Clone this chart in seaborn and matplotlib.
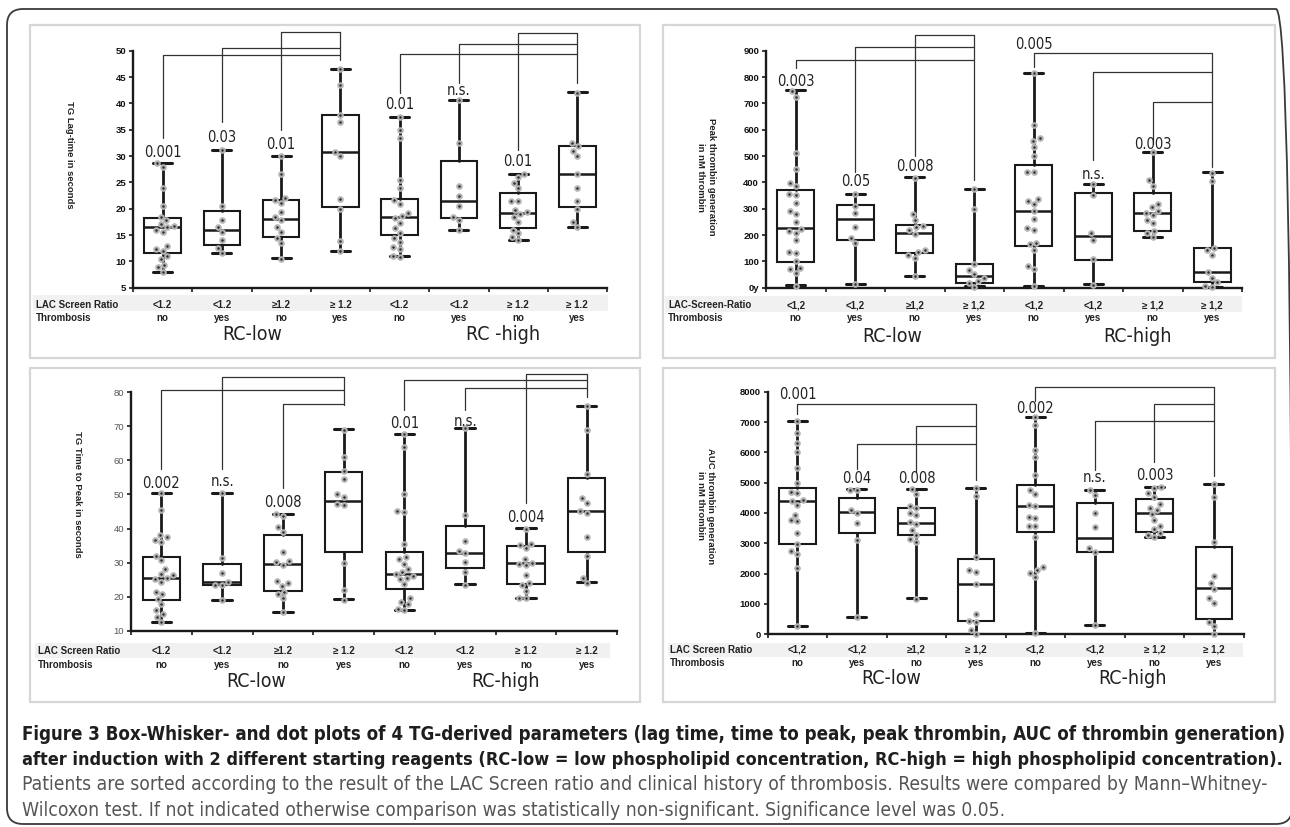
import os
import numpy as np
import pandas as pd
import matplotlib
matplotlib.use("Agg")
import matplotlib.pyplot as plt
import seaborn as sns
from matplotlib import font_manager as fm
from matplotlib.patches import FancyBboxPatch, Rectangle
from matplotlib.transforms import blended_transform_factory

# ---------------- data ----------------
groups = ["g1", "g2", "g3", "g4", "g5", "g6", "g7", "g8"]
thrombosis = ["no", "yes", "no", "yes", "no", "yes", "no", "yes"]
lac_dot = ["<1.2", "<1.2", "\u22651.2", "\u2265 1.2", "<1.2", "<1.2", "\u2265 1.2", "\u2265 1.2"]
lac_comma = ["<1,2", "<1,2", "\u22651,2", "\u2265 1,2", "<1,2", "<1,2", "\u2265 1,2", "\u2265 1,2"]

lag_pts = [
    [28.6, 28.0, 23.9, 20.5, 18.5, 17.8, 17.1, 16.8, 16.5, 16.0, 15.5, 13.0, 12.4, 12.0, 11.0, 10.5, 9.4, 8.9, 8.0],
    [31.1, 20.5, 17.9, 16.5, 15.5, 14.0, 12.5, 11.5],
    [30.0, 26.5, 22.0, 21.6, 21.0, 19.4, 18.5, 17.9, 16.5, 15.5, 14.4, 13.4, 10.4],
    [46.5, 43.4, 37.8, 36.4, 30.8, 30.1, 21.9, 19.9, 13.8, 11.9],
    [37.4, 35.0, 33.4, 25.4, 23.9, 21.6, 20.9, 19.2, 18.7, 18.3, 17.3, 16.3, 15.4, 14.4, 13.7, 12.8, 12.4, 11.0, 10.9],
    [40.6, 32.4, 24.4, 22.4, 20.5, 18.5, 17.8, 16.0],
    [26.6, 26.1, 24.9, 23.9, 21.4, 21.4, 19.8, 19.3, 18.9, 18.4, 17.4, 16.0, 15.3, 14.7, 14.0],
    [42.0, 32.4, 31.9, 31.0, 30.0, 26.5, 24.0, 21.5, 19.9, 17.5, 16.6],
]
lag_lo = [8.0, 11.6, 10.6, 12.0, 11.0, 16.0, 14.1, 16.6]
lag_q1 = [11.65, 13.1, 14.6, 20.3, 15.1, 18.2, 16.3, 20.3]
lag_med = [16.6, 16.0, 18.0, 30.7, 18.5, 21.5, 19.1, 26.6]
lag_q3 = [18.3, 19.6, 21.6, 37.7, 21.8, 29.1, 23.0, 32.0]
lag_hi = [28.6, 31.1, 30.1, 46.5, 37.5, 40.6, 26.6, 42.2]

peak_pts = [
    [748, 726, 513, 452, 397, 386, 357, 353, 323, 292, 278, 248, 224, 215, 209, 180, 136, 133, 101, 76, 72, 56, 6],
    [356, 310, 285, 231, 190, 171, 13],
    [418, 280, 256, 236, 229, 220, 204, 144, 135, 123, 113, 44],
    [375, 300, 91, 68, 53, 38, 24, 18, 3],
    [815, 617, 567, 558, 533, 502, 440, 438, 337, 330, 318, 290, 262, 226, 220, 168, 165, 145, 82, 70, 5],
    [392, 351, 206, 182, 110, 10],
    [514, 408, 386, 318, 305, 292, 285, 276, 258, 245, 217, 207, 191],
    [437, 404, 150, 142, 125, 58, 38, 20, 7, 2],
]
peak_lo = [10, 14, 44, 5, 7, 13, 191, 4]
peak_q1 = [99, 183, 130, 19, 159, 107, 216, 20]
peak_med = [225, 261, 206, 45, 291, 196, 285, 61]
peak_q3 = [371, 314, 239, 91, 466, 358, 358, 149]
peak_hi = [750, 357, 420, 375, 816, 394, 516, 439]

ttp_pts = [
    [50.5, 45.5, 38.1, 37.4, 36.6, 36.1, 32.0, 30.7, 28.1, 26.6, 26.3, 25.6, 25.3, 24.4, 21.4, 20.9, 19.4, 17.7, 16.0, 15.0, 14.1, 12.6],
    [50.3, 31.4, 27.0, 24.4, 23.5, 23.3, 19.0],
    [44.2, 43.6, 40.4, 39.0, 33.0, 30.5, 30.1, 29.4, 24.5, 24.0, 23.2, 21.4, 20.8, 19.5, 15.6],
    [69.0, 61.0, 56.9, 54.5, 50.1, 49.4, 47.2, 46.8, 30.0, 22.0, 19.0],
    [67.7, 64.0, 50.1, 45.1, 44.9, 35.6, 31.7, 31.0, 29.7, 28.1, 27.1, 26.6, 26.1, 25.6, 25.1, 23.6, 19.5, 18.3, 17.7, 16.5, 16.0],
    [69.6, 44.0, 36.3, 33.4, 32.7, 30.1, 27.1, 23.5],
    [40.0, 35.5, 35.1, 34.3, 31.1, 30.0, 29.6, 29.2, 26.5, 23.9, 23.3, 21.7, 19.7, 19.5],
    [76.0, 69.0, 56.0, 49.0, 47.5, 45.1, 44.7, 37.6, 32.0, 25.6, 24.0],
]
ttp_lo = [12.6, 19.0, 15.6, 19.2, 16.0, 23.6, 19.7, 24.2]
ttp_q1 = [18.9, 23.4, 21.7, 33.2, 22.2, 28.5, 23.7, 33.2]
ttp_med = [25.5, 24.2, 29.6, 48.1, 26.7, 32.9, 30.0, 45.2]
ttp_q3 = [31.5, 29.6, 38.1, 56.7, 33.0, 40.7, 34.9, 54.9]
ttp_hi = [50.5, 50.5, 44.3, 69.2, 67.7, 69.6, 40.2, 76.1]

auc_pts = [
    [7020, 6650, 6300, 6000, 5480, 5000, 4700, 4650, 4420, 4400, 4280, 3950, 3780, 3750, 3340, 2980, 2760, 2660, 2200, 280],
    [4750, 4750, 4100, 3990, 3660, 3110, 580],
    [4780, 4620, 4220, 4150, 4000, 3930, 3710, 3640, 3440, 3280, 3150, 3060, 1180],
    [4820, 4570, 2540, 2110, 2060, 1660, 660, 440, 420, 150, 10],
    [7150, 6900, 6080, 5850, 5250, 4750, 4620, 4260, 4220, 3880, 3850, 3580, 3560, 3200, 2230, 2120, 2030, 1880, 30],
    [4750, 4600, 3990, 3550, 2840, 2720, 300],
    [4850, 4810, 4650, 4540, 4300, 4180, 4100, 3970, 3770, 3580, 3460, 3350, 3280, 3220],
    [4950, 4520, 3030, 1920, 1700, 1500, 1190, 1030, 420, 280, 0],
]
auc_lo = [285, 582, 1186, 10, 30, 307, 3198, 0]
auc_q1 = [2967, 3351, 3274, 428, 3384, 2703, 3384, 505]
auc_med = [4406, 4044, 3659, 1659, 4230, 3187, 3989, 1516]
auc_q3 = [4835, 4483, 4153, 2483, 4923, 4340, 4450, 2890]
auc_hi = [7044, 4780, 4780, 4824, 7176, 4758, 4868, 4956]

# brackets: (group, y_start, y_line); reference group and its lower end
lag_br = [(0, 33.4, 49.2), (1, 36.5, 50.5), (2, 35.0, 53.6), (4, 41.9, 49.3), (5, 43.8, 51.3), (6, 31.2, 53.3)]
lag_ref = [(3, 48.2), (7, 43.8)]
lag_p = [(0, 30.6, "0.001"), (1, 33.6, "0.03"), (2, 32.1, "0.01"), (4, 39.7, "0.01"), (5, 42.5, "n.s."), (6, 28.9, "0.01")]

peak_br = [(0, 833, 865), (1, 441, 915), (2, 500, 960), (4, 839, 890), (5, 485, 818), (6, 546, 706)]
peak_ref = [(3, 409), (7, 460)]
peak_p = [(0, 782, "0.003"), (1, 403, "0.05"), (2, 460, "0.008"), (4, 925, "0.005"), (5, 431, "n.s."), (6, 542, "0.003")]

ttp_br = [(0, 57.5, 80.8), (1, 57.5, 84.4), (2, 51.8, 76.6), (4, 74.8, 83.6), (5, 74.8, 81.4), (6, 47.4, 85.3)]
ttp_ref = [(3, 76.3), (7, 78.5)]
ttp_p = [(0, 53.3, "0.002"), (1, 53.7, "n.s."), (2, 47.7, "0.008"), (4, 70.7, "0.01"), (5, 71.4, "n.s."), (6, 43.2, "0.004")]

auc_br = [(0, 7265, 7585), (1, 5452, 6267), (2, 5343, 6879), (4, 7703, 8145), (5, 5420, 7044), (6, 5673, 7585)]
auc_ref = [(3, 5090), (7, 5222)]
auc_p = [(0, 7914, "0.001"), (1, 5122, "0.04"), (2, 5122, "0.008"), (4, 7453, "0.002"), (5, 5166, "n.s."), (6, 5232, "0.003")]

lag_ticks = [5, 10, 15, 20, 25, 30, 35, 40, 45, 50]
peak_ticks = [0, 100, 200, 300, 400, 500, 600, 700, 800, 900]
peak_ticklabels = ["0y", "100", "200", "300", "400", "500", "600", "700", "800", "900"]
ttp_ticks = [10, 20, 30, 40, 50, 60, 70, 80]
auc_ticks = [0, 1000, 2000, 3000, 4000, 5000, 6000, 7000, 8000]

caption = [
    "Figure 3 Box-Whisker- and dot plots of 4 TG-derived parameters (lag time, time to peak, peak thrombin, AUC of thrombin generation)",
    "after induction with 2 different starting reagents (RC-low = low phospholipid concentration, RC-high = high phospholipid concentration).",
    "Patients are sorted according to the result of the LAC Screen ratio and clinical history of thrombosis. Results were compared by Mann\u2013Whitney-",
    "Wilcoxon test. If not indicated otherwise comparison was statistically non-significant. Significance level was 0.05.",
]

# ---------------- style ----------------
sns.set_theme(style="ticks")
plt.rcParams["font.family"] = ["Liberation Sans", "DejaVu Sans"]


def find_narrow(bold):
    best = None
    for f in fm.fontManager.ttflist:
        base = os.path.basename(f.fname).lower()
        if not base.endswith((".ttf", ".otf")):
            continue
        if "italic" in base or "oblique" in base:
            continue
        if not ("narrow" in base or "condensed" in base):
            continue
        if ("bold" in base) != bold:
            continue
        score = 0 if "liberation" in base else (1 if "dejavusans" in base and "mono" not in base else 2)
        if best is None or score < best[0]:
            best = (score, f.fname)
    return best[1] if best else None


NARROW_REG = find_narrow(False)
NARROW_BOLD = find_narrow(True)


def nprop(size, bold=False):
    path = NARROW_BOLD if bold else NARROW_REG
    if path:
        return fm.FontProperties(fname=path, size=size)
    return fm.FontProperties(family="Liberation Sans", weight="bold" if bold else "normal",
                             size=size * 0.88)


W, H = 1290, 827
fig = plt.figure(figsize=(W / 100, H / 100), dpi=100)
fig.patch.set_facecolor("white")
DARK = "#1a1a1a"


def fx(px):
    return px / W


def fy(py):
    return 1 - py / H


# outer rounded frame (in inches)
frame = FancyBboxPatch((7 / 100, (H - 824) / 100), (1292 - 7) / 100, (824 - 9) / 100,
                       boxstyle="round,pad=0,rounding_size=0.16", transform=fig.dpi_scale_trans,
                       fill=False, edgecolor="#3a3a3a", linewidth=1.3, zorder=0)
fig.add_artist(frame)

panels = [
    dict(pts=lag_pts, lo=lag_lo, q1=lag_q1, med=lag_med, q3=lag_q3, hi=lag_hi, br=lag_br, ref=lag_ref, p=lag_p,
         ticks=lag_ticks, labels=[str(t) for t in lag_ticks], ylim=(5, 50),
         ax_px=(133, 607, 50.7, 287.7), border=(30, 25, 640, 358), band=(33, 608, 295, 311),
         rows=(305, 318.5, 335), head_x=36, lac_title="LAC Screen Ratio", lac=lac_dot,
         rc=((1.51, "RC-low"), (5.75, "RC -high")),
         ylabel="TG Lag-time in seconds", ylab_pos=(-0.133, 0.56), tick_color="#111111", tick_weight="bold"),
    dict(pts=peak_pts, lo=peak_lo, q1=peak_q1, med=peak_med, q3=peak_q3, hi=peak_hi, br=peak_br, ref=peak_ref,
         p=peak_p, ticks=peak_ticks, labels=peak_ticklabels, ylim=(0, 900),
         ax_px=(766, 1242, 50.7, 287.7), border=(663, 25, 1275, 358), band=(665, 1242, 296, 312),
         rows=(305, 318, 337), head_x=668, lac_title="LAC-Screen-Ratio", lac=lac_comma,
         rc=((1.62, "RC-low"), (5.75, "RC-high")),
         ylabel="Peak thrombin generation\nin nM thrombin", ylab_pos=(-0.126, 0.467), tick_color="#111111",
         tick_weight="bold"),
    dict(pts=ttp_pts, lo=ttp_lo, q1=ttp_q1, med=ttp_med, q3=ttp_q3, hi=ttp_hi, br=ttp_br, ref=ttp_ref, p=ttp_p,
         ticks=ttp_ticks, labels=[str(t) for t in ttp_ticks], ylim=(10, 80),
         ax_px=(131, 617, 392.3, 630.7), border=(30, 368, 640, 702), band=(35, 610, 643, 658),
         rows=(651, 665, 681.7), head_x=38, lac_title="LAC Screen Ratio", lac=lac_dot,
         rc=((1.56, "RC-low"), (5.67, "RC-high")),
         ylabel="TG Time to Peak in seconds", ylab_pos=(-0.11, 0.573), tick_color="#555555", tick_weight="normal"),
    dict(pts=auc_pts, lo=auc_lo, q1=auc_q1, med=auc_med, q3=auc_q3, hi=auc_hi, br=auc_br, ref=auc_ref, p=auc_p,
         ticks=auc_ticks, labels=[str(t) for t in auc_ticks], ylim=(0, 8000),
         ax_px=(767.7, 1243.7, 391.7, 634.3), border=(663, 368, 1275, 702), band=(668, 1243, 643, 657),
         rows=(650, 662.7, 679), head_x=670, lac_title="LAC Screen Ratio", lac=lac_comma,
         rc=((1.57, "RC-low"), (5.63, "RC-high")),
         ylabel="AUC thrombin generation\nin nM thrombin", ylab_pos=(-0.13, 0.529), tick_color="#111111",
         tick_weight="bold"),
]

TAB_FS = 7.0

for P in panels:
    x0, x1, y0, y1 = P["ax_px"]
    ax = fig.add_axes([fx(x0), fy(y1), (x1 - x0) / W, (y1 - y0) / H])
    ax.set_facecolor("none")

    # panel border + grey band
    bx0, by0, bx1, by1 = P["border"]
    fig.add_artist(Rectangle((fx(bx0), fy(by1)), (bx1 - bx0) / W, (by1 - by0) / H, transform=fig.transFigure,
                             fill=False, edgecolor="#d6d6d6", linewidth=1.6, zorder=0))
    gx0, gx1, gy0, gy1 = P["band"]
    fig.add_artist(Rectangle((fx(gx0), fy(gy1)), (gx1 - gx0) / W, (gy1 - gy0) / H, transform=fig.transFigure,
                             facecolor="#f1f1f1", edgecolor="none", zorder=0))

    df = pd.DataFrame({"group": [g for g, v in zip(groups, P["pts"]) for _ in v],
                       "value": [x for v in P["pts"] for x in v]})
    sns.swarmplot(data=df, x="group", y="value", order=groups, ax=ax, size=3.3, color="#2e2e2e",
                  edgecolor="#b4b4b4", linewidth=1.45, zorder=5, clip_on=False)

    stats = [dict(whislo=P["lo"][i], q1=P["q1"][i], med=P["med"][i], q3=P["q3"][i], whishi=P["hi"][i],
                  fliers=[]) for i in range(8)]
    ax.bxp(stats, positions=list(range(8)), widths=0.62, capwidths=0.32, patch_artist=True, showfliers=False,
           manage_ticks=False,
           boxprops=dict(facecolor="white", edgecolor=DARK, linewidth=1.5),
           medianprops=dict(color=DARK, linewidth=1.8),
           whiskerprops=dict(color=DARK, linewidth=2.0),
           capprops=dict(color=DARK, linewidth=2.2))

    ax.set_xlim(-0.5, 7.5)
    ax.set_ylim(*P["ylim"])
    ax.set_xlabel("")
    ax.set_ylabel("")
    ax.set_xticks(np.arange(-0.5, 8.0, 1.0))
    ax.set_xticklabels([])
    ax.set_yticks(P["ticks"])
    ax.set_yticklabels(P["labels"], fontsize=6.8, fontweight=P["tick_weight"], color=P["tick_color"])
    ax.tick_params(axis="x", direction="out", length=3, width=1.2, color=DARK)
    ax.tick_params(axis="y", direction="out", length=3, width=1.2, color=DARK, pad=2)
    for s in ["top", "right"]:
        ax.spines[s].set_visible(False)
    for s in ["left", "bottom"]:
        ax.spines[s].set_linewidth(1.7)
        ax.spines[s].set_color(DARK)

    # significance brackets
    for half, (rg, rbottom) in zip([P["br"][:3], P["br"][3:]], P["ref"]):
        top = max(b[2] for b in half)
        for g, ys, yl in half:
            ax.plot([g, g, rg], [ys, yl, yl], color="#333333", lw=0.9, clip_on=False, zorder=3)
        ax.plot([rg, rg], [top, rbottom], color="#333333", lw=0.9, clip_on=False, zorder=3)
    for g, yv, txt in P["p"]:
        ax.text(g, yv, txt, ha="center", va="center", fontproperties=nprop(10.5),
                color="#222222", clip_on=False, zorder=6)

    # y label
    ax.text(P["ylab_pos"][0], P["ylab_pos"][1], P["ylabel"], transform=ax.transAxes, rotation=270,
            ha="center", va="center", ma="center", fontsize=6.8, fontweight="bold", color="#222222",
            linespacing=1.15)

    # table rows under axis
    tr = blended_transform_factory(ax.transData, fig.transFigure)
    ry1, ry2, ry3 = P["rows"]
    fig.text(fx(P["head_x"]), fy(ry1), P["lac_title"], ha="left", va="center", fontsize=TAB_FS,
             fontweight="bold", color="#222222")
    fig.text(fx(P["head_x"]), fy(ry2), "Thrombosis", ha="left", va="center", fontsize=TAB_FS,
             fontweight="bold", color="#222222")
    for i in range(8):
        ax.text(i, fy(ry1), P["lac"][i], transform=tr, ha="center", va="center", fontsize=TAB_FS,
                fontweight="bold", color="#222222", family=["Liberation Sans", "DejaVu Sans"])
        ax.text(i, fy(ry2), thrombosis[i], transform=tr, ha="center", va="center", fontsize=TAB_FS,
                fontweight="bold", color="#222222")
    for xr, lab in P["rc"]:
        ax.text(xr, fy(ry3), lab, transform=tr, ha="center", va="center", fontproperties=nprop(14),
                color="#222222")

# ---------------- caption ----------------
cap_y = [735, 760, 785, 810]
cap_objs = []
for i, line in enumerate(caption):
    bold = i < 2
    t = fig.text(fx(22), fy(cap_y[i]), line, ha="left", va="center", fontproperties=nprop(12, bold),
                 color="#1e1e1e" if bold else "#555555")
    cap_objs.append(t)

fig.canvas.draw()
r = fig.canvas.get_renderer()
# fit bold block to the first line, regular block to the third line
fs_bold = 12 * 1264 / cap_objs[0].get_window_extent(r).width
fs_reg = 12 * 1248 / cap_objs[2].get_window_extent(r).width
for i, t in enumerate(cap_objs):
    t.set_fontsize(fs_bold if i < 2 else fs_reg)
fig.canvas.draw()
w2 = cap_objs[1].get_window_extent(r).width
if w2 > 1258:
    cap_objs[1].set_fontsize(fs_bold * 1258 / w2)

fig.savefig("out.png", dpi=100, facecolor="white")
